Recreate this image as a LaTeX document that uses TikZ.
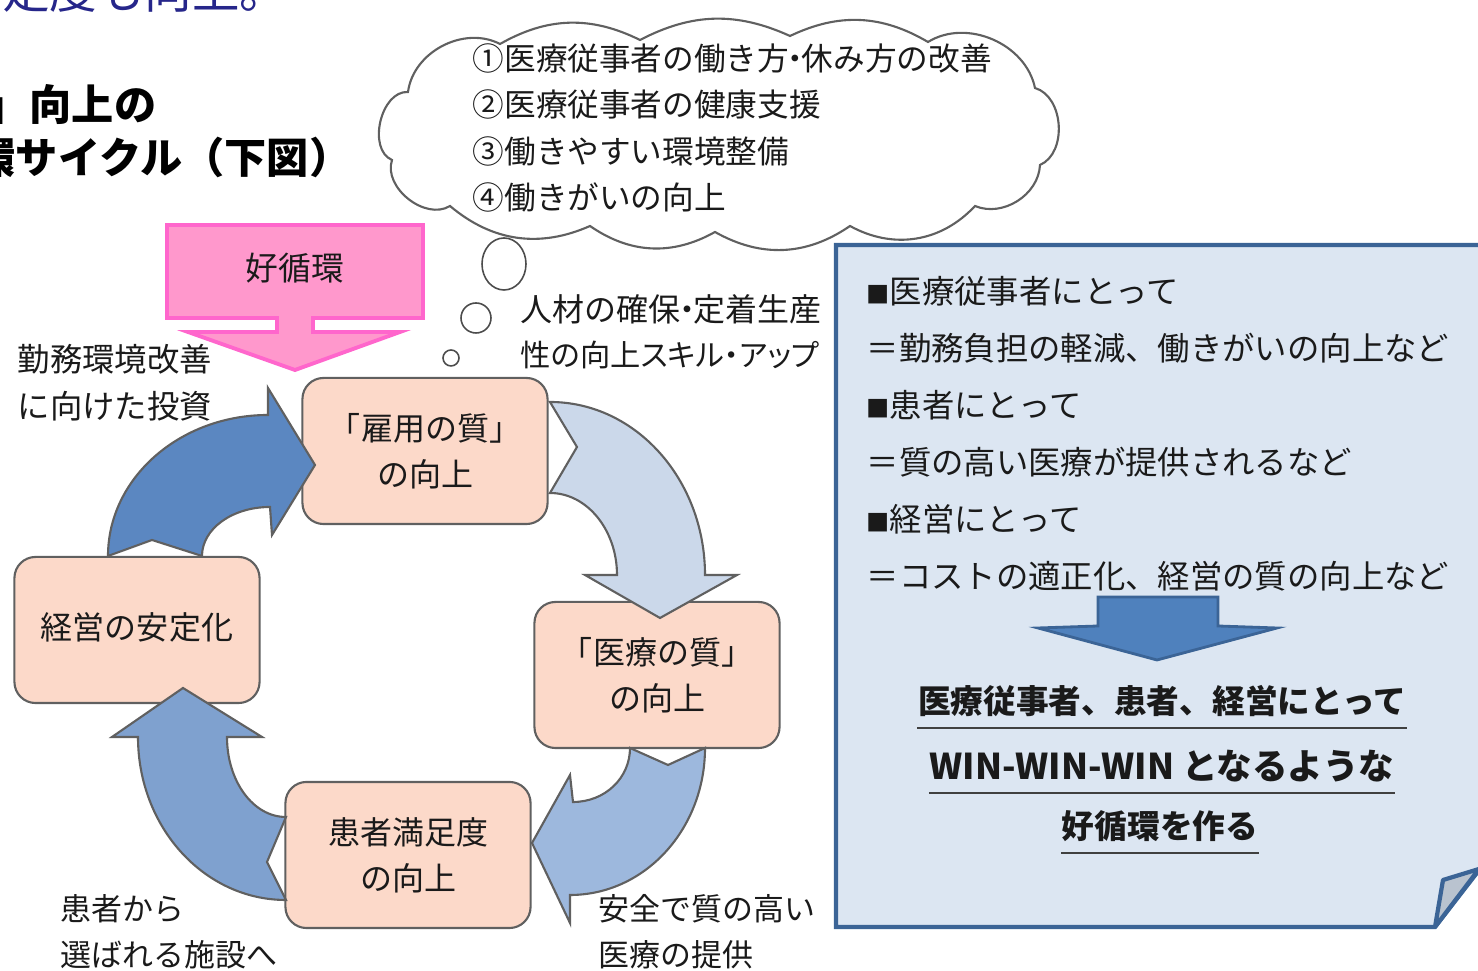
\documentclass[tikz,border=0pt]{standalone}
\usepackage{fontspec}
\setmainfont{Noto Sans CJK JP}
\newfontfamily\jpprop[RawFeature=+palt]{Noto Sans CJK JP}
\usepackage{tikz}
\usetikzlibrary{positioning}
\usepackage{color}

\definecolor{boxpeach}{HTML}{FCD9C9}
\definecolor{boxedge}{HTML}{606060}
\definecolor{arrowA}{HTML}{5B87C1}
\definecolor{arrowB}{HTML}{CBD8EA}
\definecolor{arrowC}{HTML}{9DB8DD}
\definecolor{arrowD}{HTML}{7FA1CF}
\definecolor{pinkfill}{HTML}{FF98CC}
\definecolor{pinkedge}{HTML}{FF66CC}
\definecolor{notefill}{HTML}{DCE6F2}
\definecolor{noteedge}{HTML}{3B6496}
\definecolor{notearrow}{HTML}{4F81BD}
\definecolor{foldgray}{HTML}{B9C3CF}
\definecolor{navytext}{HTML}{26268A}
\definecolor{txt}{HTML}{1A1A1A}

% narrow middle dot and small square
\newcommand{\nakadot}{\kern-0.3em・\kern-0.3em}
\newcommand{\sqmark}{{\fontsize{6.6}{8}\selectfont ■}}

\begin{document}
\begin{tikzpicture}[x=0.01cm, y=-0.01cm,
  cyclebox/.style={draw=boxedge, line width=0.6pt, fill=boxpeach, rounded corners=6pt, minimum width=2.45cm, minimum height=1.46cm, align=center, text=txt, font=\fontsize{9.1}{13.1}\selectfont},
  cyclearrow/.style={draw=boxedge, line width=0.6pt, line join=miter},
  sidetext/.style={align=left, anchor=west, inner sep=0pt, text=txt, font=\fontsize{8.8}{13.2}\selectfont},
  headtext/.style={inner sep=0pt, text=black, font=\fontsize{12}{14}\selectfont\bfseries},
  boldline/.style={inner sep=0pt, text=txt, font=\fontsize{9.3}{11}\selectfont\bfseries},
  uline/.style={draw=black!75, line width=0.45pt},
  bubbleline/.style={draw=black!70, line width=0.45pt, fill=white}]
  \useasboundingbox (0,0) rectangle (1478,971);
  \clip (0,0) rectangle (1478,971);
  % cut-off heading lines
  \node[anchor=base east, inner sep=0pt, text=navytext, font=\fontsize{13.5}{16}\selectfont] (toptext) at (288,9) {満足度も向上。};
  \node[headtext, anchor=east] (head1) at (157,105) {質」向上の};
  \node[headtext, anchor=east] (head2) at (352,157) {好循環サイクル（下図）};
  % cloud
  \draw[draw=boxedge, line width=0.6pt, fill=white] (392,160) to[bend left=80] (408,92) to[bend left=55] (500,44) to[bend left=28] (640,40) to[bend left=26] (790,36) to[bend left=28] (928,42) to[bend left=55] (1035,88) to[bend left=70] (1040,165) to[bend left=55] (975,206) to[bend left=38] (850,226) to[bend left=32] (715,232) to[bend left=32] (590,226) to[bend left=32] (450,206) to[bend left=70] (392,160) -- cycle;
  \node[sidetext, font=\fontsize{9}{13.1}\selectfont] (needs) at (472,128) {①医療従事者の働き方\nakadot 休み方の改善\\②医療従事者の健康支援\\③働きやすい環境整備\\④働きがいの向上};
  \draw[bubbleline] (504,264) ellipse [x radius=22, y radius=26];
  \draw[bubbleline] (476,318) circle [radius=15];
  \draw[bubbleline] (451,358) circle [radius=8];
  % pink arrow
  \draw[pinkedge, fill=pinkfill, line width=1.1pt, line join=miter] (167,225) -- (423,225) -- (423,318) -- (313,318) -- (313,332) -- (400,332) -- (295,370) -- (188,332) -- (277,332) -- (277,318) -- (167,318) -- cycle;
  \node[inner sep=0pt, text=txt, font=\fontsize{9.3}{11}\selectfont] (kojunkan) at (295,268) {好循環};
  % cycle boxes
  \node[cyclebox] (koyo) at (425,451) {「雇用の質」\\の向上};
  \node[cyclebox] (iryo) at (657,675) {「医療の質」\\の向上};
  \node[cyclebox] (kanja) at (408,855) {患者満足度\\の向上};
  \node[cyclebox] (keiei) at (137,630) {\raisebox{2.3pt}{経営の安定化}};
  % curved arrows
  \draw[cyclearrow, fill=arrowA] (108,556) .. controls (108,478) and (180,415) .. (268,415) -- (268,388) -- (315,465) -- (272,535) -- (270,507) .. controls (232,507) and (202,529) .. (202,556) -- (152,540) -- cycle;
  \draw[cyclearrow, fill=arrowB] (550,402) .. controls (636,402) and (705,480) .. (705,575) -- (737,575) -- (660,618) -- (585,575) -- (617,575) .. controls (617,530) and (587,493) .. (550,493) -- (577,447) -- cycle;
  \draw[cyclearrow, fill=arrowC] (705,748) .. controls (705,829) and (645,895) .. (570,895) -- (570,923) -- (532,843) -- (570,775) -- (573,802) .. controls (605,802) and (630,778) .. (630,748) -- (668,765) -- cycle;
  \draw[cyclearrow, fill=arrowD] (286,900) .. controls (204,900) and (138,827) .. (138,737) -- (112,737) -- (183,688) -- (262,737) -- (227,737) .. controls (227,781) and (253,817) .. (286,817) -- (267,862) -- cycle;
  % side texts
  \node[sidetext, font=\fontsize{9.2}{13.4}\selectfont] (invest) at (17,383) {勤務環境改善\\に向けた投資};
  \node[sidetext, font=\fontsize{9.1}{12.8}\selectfont] (staffing) at (520,332) {人材の確保\nakadot 定着生産\\{\fontsize{8.6}{12.8}\selectfont\jpprop 性の向上スキル・アップ}};
  \node[sidetext] (chosen) at (60,932) {患者から\\選ばれる施設へ};
  \node[sidetext] (safety) at (598,932) {安全で質の高い\\医療の提供};
  % note
  \draw[noteedge, fill=notefill, line width=1.2pt, line join=miter] (836,245) -- (1490,245) -- (1490,856) -- (1435,927) -- (836,927) -- cycle;
  \draw[noteedge, fill=foldgray, line width=1.2pt, line join=round] (1435,927) -- (1443,880) -- (1479,869) -- cycle;
  \node[sidetext, font=\fontsize{9.2}{16.2}\selectfont] (merits) at (866,434) {\sqmark 医療従事者にとって\\＝勤務負担の軽減、働きがいの向上など\\\sqmark 患者にとって\\＝質の高い医療が提供されるなど\\\sqmark 経営にとって\\＝コストの適正化、経営の質の向上など};
  \draw[noteedge, fill=notearrow, line width=0.8pt, line join=miter] (1098,597) -- (1218,597) -- (1218,626) -- (1277,628) -- (1157,660) -- (1038,628) -- (1098,626) -- cycle;
  \node[boldline] (win1) at (1162,701) {医療従事者、患者、経営にとって};
  \node[boldline, font=\fontsize{10.1}{11}\selectfont\bfseries] (win2) at (1162,766) {WIN-WIN-WIN となるような};
  \node[boldline] (win3) at (1160,826) {好循環を作る};
  \foreach \n in {win1, win2, win3}
    \draw[uline] ([yshift=-3pt]\n.south west) -- ([yshift=-3pt]\n.south east);
\end{tikzpicture}
\end{document}
